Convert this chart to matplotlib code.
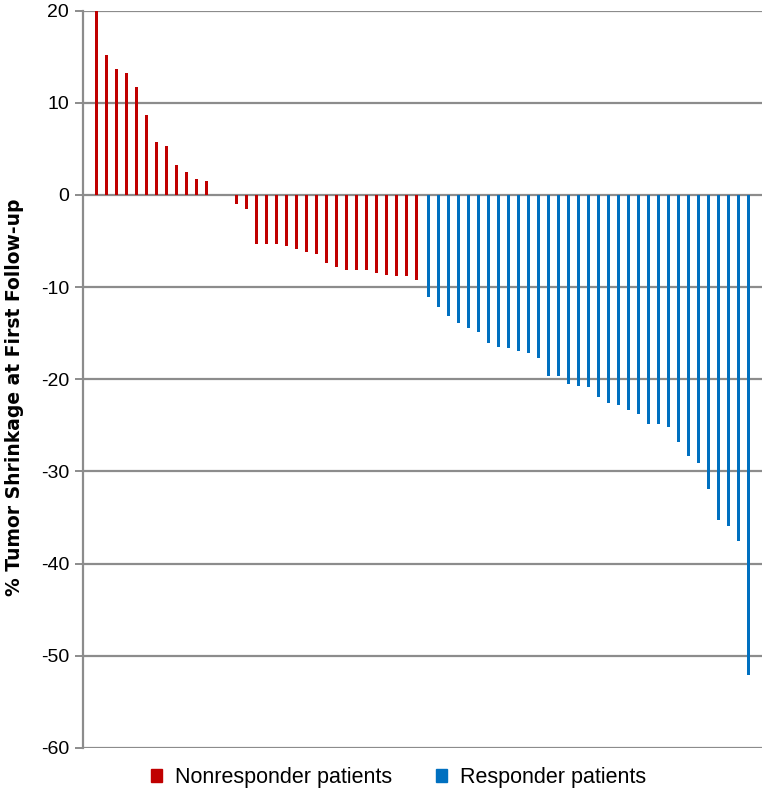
import numpy as np
import matplotlib.pyplot as plt
from matplotlib.patches import Patch

# % change per patient
nonresponders = [20.0, 15.2, 13.7, 13.2, 11.7, 8.7, 5.7, 5.3, 3.25, 2.5, 1.7, 1.55,
                 0.0, 0.0,
                 -1.0, -1.55, -5.3, -5.3, -5.3, -5.5, -5.9, -6.25, -6.4, -7.4,
                 -7.85, -8.1, -8.1, -8.1, -8.45, -8.7, -8.8, -8.85, -9.25]
responders = [-11.05, -12.2, -13.15, -13.9, -14.45, -14.85, -16.1, -16.5, -16.6,
              -16.9, -17.1, -17.65, -19.6, -19.6, -20.5, -20.75, -20.85, -21.9,
              -22.6, -22.8, -23.35, -23.8, -24.9, -24.9, -25.2, -26.8, -28.3,
              -29.1, -31.9, -35.3, -35.9, -37.5, -52.1]
yticks = [20, 10, 0, -10, -20, -30, -40, -50, -60]

red = '#C00000'
blue = '#0070C0'
grid_col = '#8C8C8C'

x_red = np.arange(len(nonresponders)) - 0.1
x_blue = np.arange(len(nonresponders), len(nonresponders) + len(responders)) + 0.1

fig = plt.figure(figsize=(7.65, 7.99), dpi=100)
ax = fig.add_axes([83 / 765, 1 - 748 / 799, (762 - 83) / 765, (748 - 10.5) / 799])

ax.bar(x_red, nonresponders, width=0.3, color=red, zorder=3)
ax.bar(x_blue, responders, width=0.3, color=blue, zorder=3)

ax.set_xlim(-1.5, 66.5)
ax.set_ylim(-60, 20)
ax.set_yticks(yticks)
ax.set_yticklabels([str(t) for t in yticks], fontsize=14, family='Liberation Sans')
ax.set_xticks([])
ax.yaxis.grid(True, color=grid_col, linewidth=1.6)
ax.set_axisbelow(True)
for s in ['top', 'right', 'bottom']:
    ax.spines[s].set_visible(False)
ax.spines['left'].set_color(grid_col)
ax.spines['left'].set_linewidth(1.6)
ax.tick_params(axis='y', length=6, width=1.4, color=grid_col, pad=4)

fig.text(15 / 765, 1 - 397 / 799, '% Tumor Shrinkage at First Follow-up',
         rotation=90, ha='center', va='center', fontsize=13.5, fontweight='bold',
         family=['Liberation Sans Narrow', 'DejaVu Sans'])

handles = [Patch(color=red, label='Nonresponder patients'),
           Patch(color=blue, label='Responder patients')]
fig.legend(handles=handles, loc='center', bbox_to_anchor=(0.521, 1 - 778 / 799),
           ncol=2, frameon=False, handlelength=0.55, handleheight=0.55,
           handletextpad=0.6, columnspacing=2.0,
           prop={'family': 'Liberation Sans', 'size': 15.5})

fig.savefig('out.png', dpi=100)
